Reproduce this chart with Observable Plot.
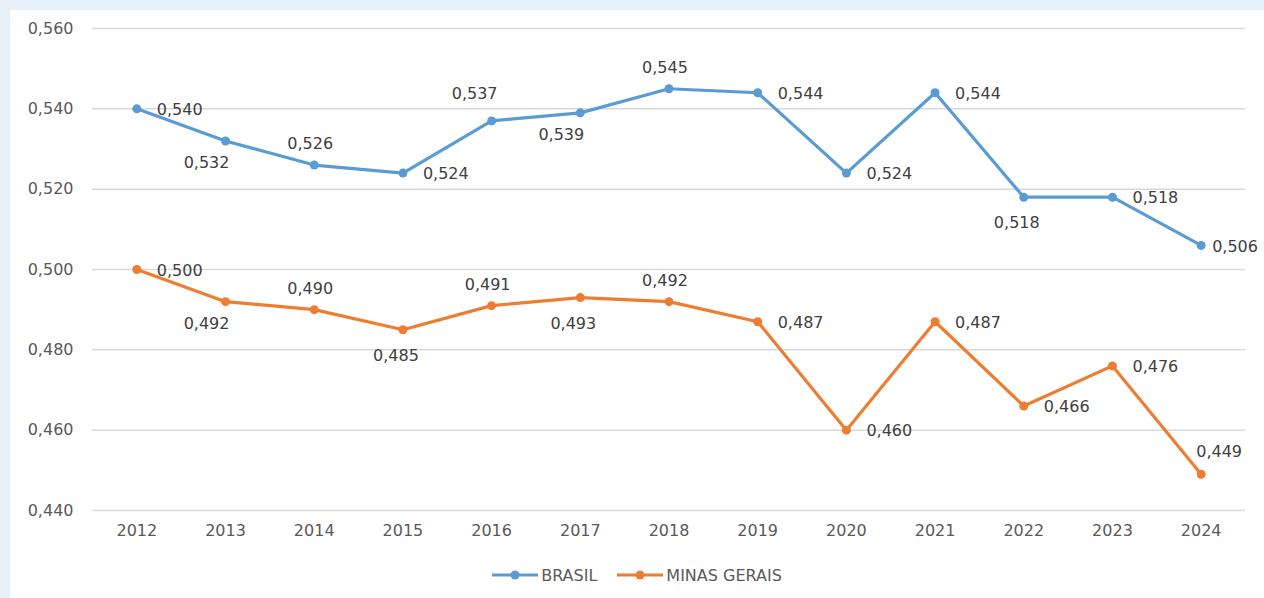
<!DOCTYPE html>
<html>
<head>
<meta charset="utf-8">
<script src="https://cdn.jsdelivr.net/npm/d3@7"></script>
<script src="https://cdn.jsdelivr.net/npm/@observablehq/plot@0.6"></script>
<style>
  html, body { margin: 0; padding: 0; }
  body { width: 1264px; height: 598px; background: #e5f0f8; position: relative; overflow: hidden; font-family: "DejaVu Sans", sans-serif; }
  #frame { position: absolute; left: 10px; top: 10px; width: 1254px; height: 588px; background: #ffffff; }
  #chart { position: absolute; left: 0; top: 0; }
  #legend { position: absolute; left: 0; top: 555px; width: 1254px; height: 20px; display: flex; justify-content: center; align-items: center; gap: 20px; font-size: 16px; color: #595959; }
  .item { display: flex; align-items: center; gap: 3px; }
</style>
</head>
<body>
<div id="frame">
  <div id="chart"></div>
  <div id="legend"></div>
</div>
<script>
// ---- data ----
const years = [2012, 2013, 2014, 2015, 2016, 2017, 2018, 2019, 2020, 2021, 2022, 2023, 2024];
const brasil = [0.540, 0.532, 0.526, 0.524, 0.537, 0.539, 0.545, 0.544, 0.524, 0.544, 0.518, 0.518, 0.506];
const minasGerais = [0.500, 0.492, 0.490, 0.485, 0.491, 0.493, 0.492, 0.487, 0.460, 0.487, 0.466, 0.476, 0.449];
const seriesNames = ["BRASIL", "MINAS GERAIS"];
const yTicks = [0.440, 0.460, 0.480, 0.500, 0.520, 0.540, 0.560];
// label placement relative to each point
const brasilLabelSide = ["right", "below-left", "above", "right", "above-left", "below-left", "above", "right", "right", "right", "below", "right", "right-tight"];
const minasLabelSide = ["right", "below-left", "above", "below", "above", "below", "above", "right", "right", "right", "right", "right", "above-right"];

const colors = {"BRASIL": "#5b9bd5", "MINAS GERAIS": "#ed7d31"};
const fmt = v => v.toFixed(3).replace(".", ",");

const rows = [];
years.forEach((yr, i) => {
  rows.push({year: yr, value: brasil[i], series: seriesNames[0], side: brasilLabelSide[i]});
  rows.push({year: yr, value: minasGerais[i], series: seriesNames[1], side: minasLabelSide[i]});
});

const placements = {
  "right":       {textAnchor: "start",  dx: 20,  dy: 1},
  "right-tight": {textAnchor: "start",  dx: 11,  dy: 1},
  "below":       {textAnchor: "middle", dx: -7,  dy: 26},
  "below-left":  {textAnchor: "middle", dx: -19, dy: 22},
  "above":       {textAnchor: "middle", dx: -4,  dy: -21},
  "above-left":  {textAnchor: "middle", dx: -17, dy: -27},
  "above-right": {textAnchor: "middle", dx: 18,  dy: -22}
};

const font = "DejaVu Sans, sans-serif";
const labelMarks = Object.entries(placements).map(([side, p]) =>
  Plot.text(rows.filter(d => d.side === side), {
    x: "year", y: "value", text: d => fmt(d.value),
    textAnchor: p.textAnchor, dx: p.dx, dy: p.dy,
    fill: "#404040", fontSize: 16
  })
);

const chart = Plot.plot({
  width: 1254,
  height: 545,
  marginLeft: 82,
  marginRight: 19,
  marginTop: 18,
  marginBottom: 45,
  style: {fontFamily: font, fontSize: "16px", color: "#595959", background: "transparent", overflow: "visible"},
  x: {type: "point", domain: years, padding: 0.5, round: false, label: null},
  y: {domain: [0.44, 0.56], label: null},
  marks: [
    Plot.gridY(yTicks, {stroke: "#d9d9d9", strokeOpacity: 1, strokeWidth: 1.5}),
    Plot.axisY(yTicks, {tickSize: 0, tickPadding: 19, tickFormat: fmt, fill: "#595959", fontSize: 16}),
    Plot.axisX(years, {tickSize: 0, tickPadding: 14, tickFormat: d => String(d), fill: "#595959", fontSize: 16}),
    Plot.line(rows, {x: "year", y: "value", z: "series", stroke: d => colors[d.series], strokeWidth: 3.2}),
    Plot.dot(rows, {x: "year", y: "value", fill: d => colors[d.series], r: 4.5}),
    ...labelMarks
  ]
});
document.getElementById("chart").appendChild(chart);

// legend
const legend = document.getElementById("legend");
seriesNames.forEach(name => {
  const item = document.createElement("div");
  item.className = "item";
  item.innerHTML = `<svg width="46" height="12"><line x1="0" y1="6" x2="46" y2="6" stroke="${colors[name]}" stroke-width="3"/><circle cx="23" cy="6" r="4.5" fill="${colors[name]}"/></svg><span>${name}</span>`;
  legend.appendChild(item);
});
</script>
</body>
</html>
